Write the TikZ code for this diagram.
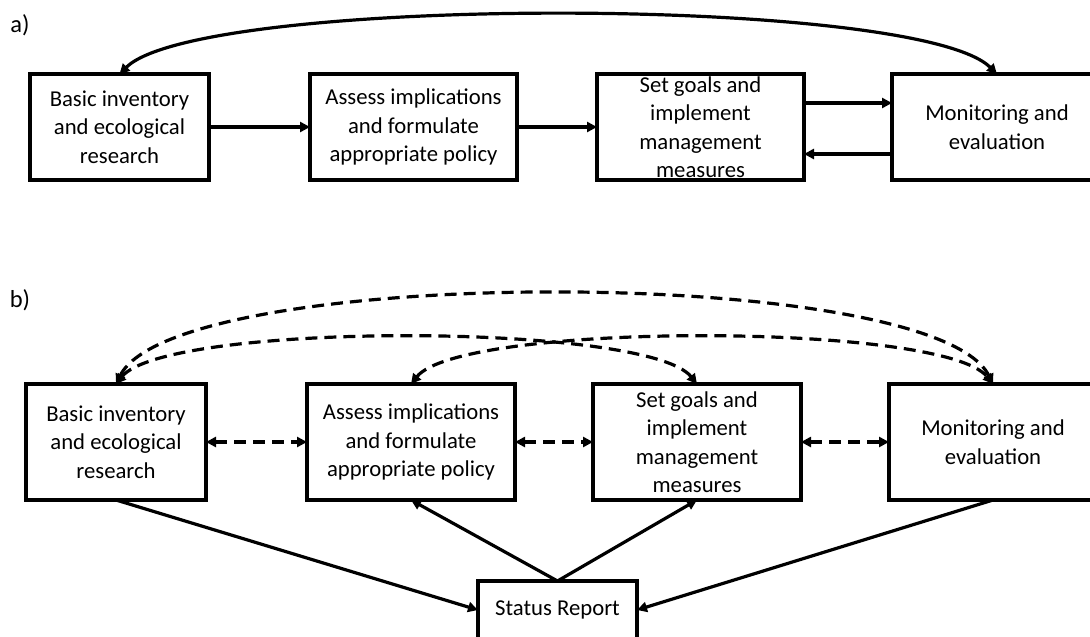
\documentclass[tikz,border=0pt]{standalone}
\usepackage{fontspec}
\setmainfont{Carlito}
\usepackage{tikz}
\usetikzlibrary{calc,positioning,arrows.meta}

\begin{document}
\begin{tikzpicture}[
  x=1pt, y=-1pt,
  node distance=1cm and 101pt,
  font=\fontsize{22.7}{28.5}\selectfont,
  boxstyle/.style={draw=black, line width=3.2pt, inner sep=0, outer sep=0, align=center, minimum height=106pt},
  bboxstyle/.style={boxstyle, minimum height=116pt},
  namestyle/.style={draw=none, inner sep=0, font=\fontsize{24.5}{28}\selectfont},
  pathstyle/.style={line width=3.2pt, -{Triangle[length=10pt,width=10pt]}},
  twostyle/.style={line width=3.2pt, {Triangle[length=10pt,width=10pt]}-{Triangle[length=10pt,width=10pt]}},
  dashstyle/.style={twostyle, dash pattern=on 12pt off 7pt}
]
  \useasboundingbox (0,0) rectangle (1090,637);

  % a)
  \node[namestyle] (ANAME) at (20,25)
    {a)};
  \node[boxstyle, minimum width=179pt] (A1) at (119.5,127)
    {Basic inventory\\and ecological\\research};
  \node[boxstyle, minimum width=207pt, right=101pt of A1] (A2)
    {Assess implications\\and formulate\\appropriate policy};
  \node[boxstyle, minimum width=207pt, right=80pt of A2] (A3)
    {Set goals and\\implement\\management\\measures};
  \node[boxstyle, minimum width=210pt, right=88pt of A3] (A4)
    {Monitoring and\\evaluation};

  \draw[pathstyle] (A1) -- (A2);
  \draw[pathstyle] (A2) -- (A3);
  \draw[pathstyle] ([yshift=24pt]A3.east) -- ([yshift=24pt]A4.west);
  \draw[pathstyle] ([yshift=-27pt]A4.west) -- ([yshift=-27pt]A3.east);
  \draw[twostyle] (A1.north) .. controls +(80,-79) and +(-80,-79) .. (A4.north);

  % b)
  \node[namestyle] (BNAME) at (20,300)
    {b)};
  \node[bboxstyle, minimum width=180pt] (B1) at (116,442)
    {Basic inventory\\and ecological\\research};
  \node[bboxstyle, minimum width=208pt, right=101pt of B1] (B2)
    {Assess implications\\and formulate\\appropriate policy};
  \node[bboxstyle, minimum width=208pt, right=78pt of B2] (B3)
    {Set goals and\\implement\\management\\measures};
  \node[bboxstyle, minimum width=208pt, right=88pt of B3] (B4)
    {Monitoring and\\evaluation};
  \node[boxstyle, minimum width=159pt, minimum height=58pt] (SR) at (557.5,610)
    {Status Report};

  \draw[dashstyle] (B1) -- (B2);
  \draw[dashstyle] (B2) -- (B3);
  \draw[dashstyle] (B3) -- (B4);
  \draw[dashstyle] (B1.north) .. controls +(60,-120) and +(-60,-120) .. (B4.north);
  \draw[dashstyle] (B1.north) .. controls +(50,-62) and +(-50,-62) .. (B3.north);
  \draw[dashstyle] (B2.north) .. controls +(50,-62) and +(-50,-62) .. (B4.north);

  \draw[pathstyle] (B1.south) -- (SR.west);
  \draw[pathstyle] (B4.south) -- (SR.east);
  \draw[pathstyle] (SR.north) -- (B2.south);
  \draw[pathstyle] (SR.north) -- (B3.south);
\end{tikzpicture}
\end{document}
